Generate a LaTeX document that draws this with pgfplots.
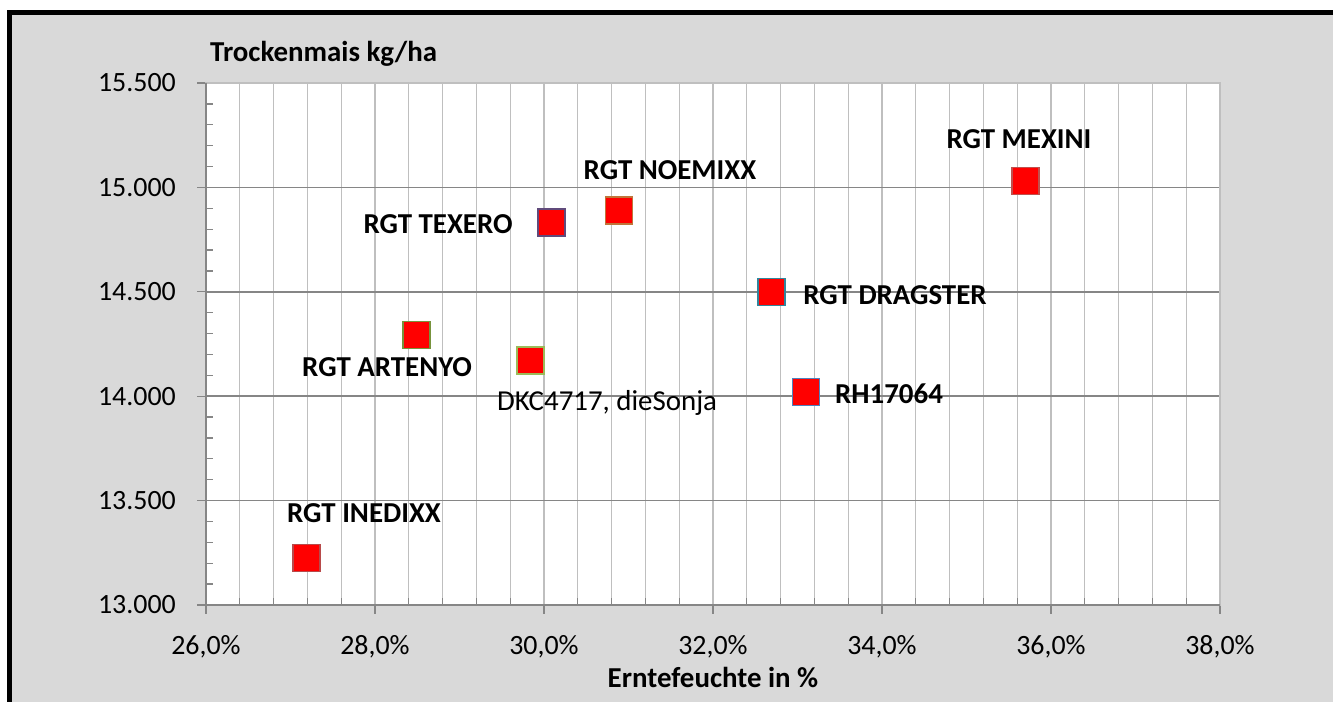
\documentclass[border=0pt]{standalone}
\usepackage{pgfplots}
\pgfplotsset{compat=1.18}
\usepackage{fontspec}
\setmainfont{Carlito}
\definecolor{bg}{HTML}{D9D9D9}
\definecolor{axgray}{HTML}{868686}
\definecolor{gridgray}{HTML}{BFBFBF}
\definecolor{eRed}{HTML}{C0504D}
\definecolor{eRed2}{HTML}{B84A4A}
\definecolor{ePurple}{HTML}{604A7B}
\definecolor{eOrange}{HTML}{C0753A}
\definecolor{eOlive}{HTML}{77933C}
\definecolor{eGreen}{HTML}{9BBB59}
\definecolor{eAqua}{HTML}{31859C}
\definecolor{eBlue}{HTML}{4F81BD}
\begin{document}
\begin{tikzpicture}
\path[use as bounding box] (0bp,0bp) rectangle (1333bp,702bp);
\fill[white] (0bp,0bp) rectangle (1333bp,702bp);
\fill[bg] (9.5bp,0bp) rectangle (1333bp,689.5bp);
\draw[black, line width=4.5bp] (9.5bp,-2bp) -- (9.5bp,689.5bp) -- (1335bp,689.5bp);
\begin{axis}[
  at={(206bp,97bp)}, anchor=south west,
  width=1014bp, height=522bp, scale only axis,
  xmin=26, xmax=38, ymin=13000, ymax=15500,
  scaled x ticks=false, scaled y ticks=false,
  xtick={26,28,...,38},
  xticklabels={{26,0\%},{28,0\%},{30,0\%},{32,0\%},{34,0\%},{36,0\%},{38,0\%}},
  ytick={13000,13500,...,15500},
  yticklabels={13.000,13.500,14.000,14.500,15.000,15.500},
  minor x tick num=4, minor y tick num=4,
  xmajorgrids, xminorgrids, ymajorgrids,
  x grid style={gridgray, line width=1.3bp},
  y grid style={axgray, line width=1.5bp},
  tick pos=left, tick align=inside,
  major tick length=-9bp, minor tick length=7bp,
  tick style={axgray, line width=1.3bp},
  axis line style={gridgray, line width=1.3bp},
  axis background/.style={fill=white},
  ticklabel style={font=\fontsize{28}{34}\selectfont, inner sep=0pt},
  xticklabel style={anchor=north, yshift=-30bp},
  yticklabel style={anchor=east, xshift=-30bp},
  clip=false,
]
\draw[axgray, line width=1.5bp] (rel axis cs:0,1) -- (rel axis cs:0,0) -- (rel axis cs:1,0);
\pgfplotsset{every axis plot/.append style={only marks, mark=square*, mark size=13.5bp}}
\addplot[mark options={fill=red, draw=eRed2, line width=1.5bp}] coordinates {(27.19,13224)};
\addplot[mark options={fill=red, draw=eRed, line width=1.5bp}] coordinates {(35.70,15031)};
\addplot[mark options={fill=red, draw=ePurple, line width=1.5bp}] coordinates {(30.09,14832)};
\addplot[mark options={fill=red, draw=eOrange, line width=1.5bp}] coordinates {(30.89,14890)};
\addplot[mark options={fill=red, draw=eOlive, line width=1.5bp}] coordinates {(28.49,14294)};
\addplot[mark options={fill=red, draw=eGreen, line width=1.5bp}] coordinates {(29.84,14172)};
\addplot[mark options={fill=red, draw=eAqua, line width=1.5bp}] coordinates {(32.69,14498)};
\addplot[mark options={fill=red, draw=eBlue, line width=1.5bp}] coordinates {(33.10,14021)};
\tikzset{lab/.style={anchor=base, inner sep=0pt, font=\fontsize{29}{35}\selectfont\bfseries}}
\node[lab] at (axis cs:35.621,15188.6) {RGT MEXINI};
\node[lab] at (axis cs:31.491,15040) {RGT NOEMIXX};
\node[lab] at (axis cs:28.746,14781.5) {RGT TEXERO};
\node[lab] at (axis cs:28.142,14096.7) {RGT ARTENYO};
\node[lab, font=\fontsize{29}{35}\selectfont] at (axis cs:30.746,13933.9) {DKC4717, dieSonja};
\node[lab] at (axis cs:34.083,13967.4) {RH17064};
\node[lab] at (axis cs:34.154,14441.5) {RGT DRAGSTER};
\node[lab] at (axis cs:27.870,13397.5) {RGT INEDIXX};
\end{axis}
\node[anchor=base west, inner sep=0pt, font=\fontsize{29}{35}\selectfont\bfseries] at (210bp,640bp) {Trockenmais kg/ha};
\node[anchor=base, inner sep=0pt, font=\fontsize{29}{35}\selectfont\bfseries] at (713bp,15bp) {Erntefeuchte in \%};
\end{tikzpicture}
\end{document}
